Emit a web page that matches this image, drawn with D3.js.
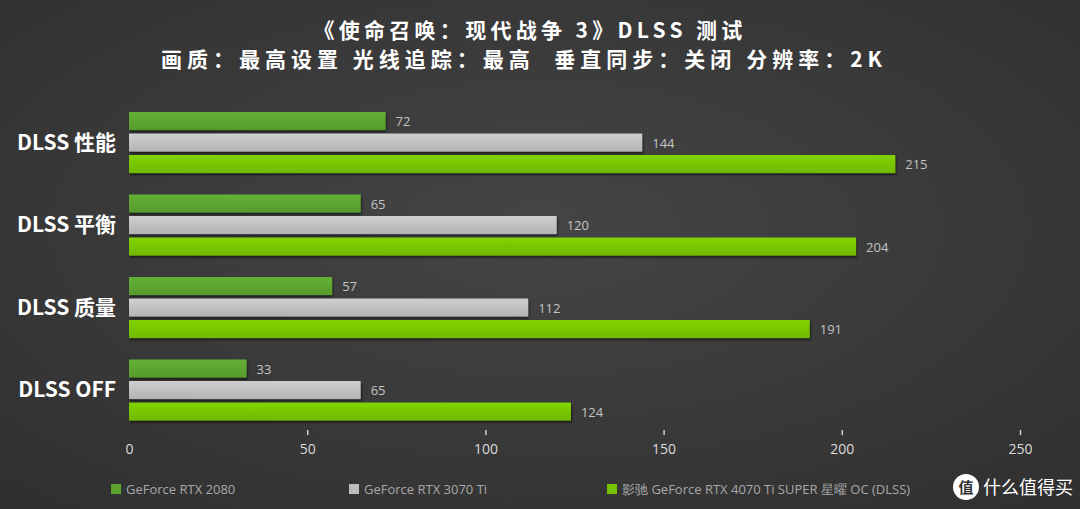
<!DOCTYPE html>
<html>
<head>
<meta charset="utf-8">
<script src="https://cdn.jsdelivr.net/npm/d3@7"></script>
<style>
  html, body { margin: 0; padding: 0; background: #3a3a3a; }
  svg { display: block; }
</style>
</head>
<body>
<svg id="chart" width="1080" height="509"></svg>
<script>
const categories = ["DLSS 性能", "DLSS 平衡", "DLSS 质量", "DLSS OFF"];
const seriesNames = ["GeForce RTX 2080", "GeForce RTX 3070 Ti", "影驰 GeForce RTX 4070 Ti SUPER 星曜 OC (DLSS)"];
const rtx2080 = [72, 65, 57, 33];
const rtx3070ti = [144, 120, 112, 65];
const rtx4070tis = [215, 204, 191, 124];
const xTicks = [0, 50, 100, 150, 200, 250];
const colors = ["#5ba22f", "#bdbdbd", "#76c200"];

const svg = d3.select("#chart");
const W = 1080, H = 509;

// background
const defs = svg.append("defs");
const bg = defs.append("radialGradient").attr("id", "bg").attr("cx", "50%").attr("cy", "45%").attr("r", "75%");
bg.append("stop").attr("offset", "0%").attr("stop-color", "#454545");
bg.append("stop").attr("offset", "100%").attr("stop-color", "#2f2f2f");
const shadow = defs.append("filter").attr("id", "shadow").attr("x", "-5%").attr("y", "-30%").attr("width", "110%").attr("height", "170%");
shadow.append("feDropShadow").attr("dx", 1).attr("dy", 2).attr("stdDeviation", 1.2).attr("flood-color", "#000").attr("flood-opacity", 0.55);
colors.forEach((c, i) => {
    const g = defs.append("linearGradient").attr("id", "bar" + i).attr("x1", 0).attr("y1", 0).attr("x2", 0).attr("y2", 1);
    g.append("stop").attr("offset", "0%").attr("stop-color", d3.color(c).brighter(0.25));
    g.append("stop").attr("offset", "100%").attr("stop-color", d3.color(c).darker(0.15));
});
svg.append("rect").attr("width", W).attr("height", H).attr("fill", "url(#bg)");

// titles
svg.append("text").attr("x", 530).attr("y", 38).attr("text-anchor", "middle")
    .attr("font-family", "Noto Sans CJK SC").attr("font-weight", "bold").attr("font-size", 21)
    .attr("letter-spacing", 4.3).attr("fill", "#ffffff")
    .text("《使命召唤：现代战争 3》DLSS 测试");
svg.append("text").attr("x", 524).attr("y", 67).attr("text-anchor", "middle")
    .attr("font-family", "Noto Sans CJK SC").attr("font-weight", "bold").attr("font-size", 21)
    .attr("letter-spacing", 5).attr("fill", "#ffffff")
    .attr("xml:space", "preserve")
    .text("画质：最高设置 光线追踪：最高  垂直同步：关闭 分辨率：2K");

const x = d3.scaleLinear().domain([0, 250]).range([129, 1020]);
const y0 = d3.scaleBand().domain(categories).range([101.3, 431.3]).paddingInner(0.26).paddingOuter(0.13);
const y1 = d3.scaleBand().domain([0, 1, 2]).range([0, y0.bandwidth()]).paddingInner(0.16);

const series = [rtx2080, rtx3070ti, rtx4070tis];

const groups = svg.append("g").selectAll("g").data(categories).join("g")
    .attr("transform", d => `translate(0,${y0(d)})`);

groups.each(function(cat, ci) {
    const g = d3.select(this);
    series.forEach((s, si) => {
        g.append("rect")
            .attr("x", x(0)).attr("y", y1(si))
            .attr("width", x(s[ci]) - x(0)).attr("height", y1.bandwidth())
            .attr("fill", "url(#bar" + si + ")")
            .attr("filter", "url(#shadow)");
        g.append("text")
            .attr("x", x(s[ci]) + 10).attr("y", y1(si) + y1.bandwidth() / 2 + 5)
            .attr("font-family", "Open Sans").attr("font-size", 13).attr("fill", "#c4c4c4")
            .text(s[ci]);
    });
    g.append("text")
        .attr("x", 116).attr("y", y1(1) + y1.bandwidth() / 2 + 7)
        .attr("text-anchor", "end")
        .attr("font-family", "Noto Sans CJK SC").attr("font-weight", "bold").attr("font-size", 21).attr("fill", "#ffffff")
        .text(cat);
});

// x axis
const axis = svg.append("g").attr("transform", "translate(0,430)")
    .call(d3.axisBottom(x).tickValues(xTicks).tickSize(5).tickPadding(9));
axis.select(".domain").remove();
axis.selectAll(".tick line").attr("stroke", "#d0d0d0").attr("stroke-width", 1.5);
axis.selectAll(".tick").filter(d => d === 0).select("line").remove();
axis.selectAll(".tick text").attr("fill", "#dcdcdc").attr("font-size", 14).attr("font-family", "Open Sans");

// legend
const legendX = [111, 349, 607];
const legend = svg.append("g").selectAll("g").data(seriesNames).join("g")
    .attr("transform", (d, i) => `translate(${legendX[i]},484)`);
legend.append("rect").attr("width", 10).attr("height", 10).attr("fill", (d, i) => colors[i]);
legend.append("text").attr("x", 15).attr("y", 10)
    .attr("font-family", "Open Sans").attr("font-size", 13).attr("fill", "#a8a8a8")
    .text(d => d);

// watermark
const wm = svg.append("g").attr("transform", "translate(966,487)");
wm.append("circle").attr("r", 13).attr("fill", "#ffffff");
wm.append("text").attr("y", 6).attr("text-anchor", "middle").attr("font-family", "Noto Sans CJK SC")
    .attr("font-weight", "bold").attr("font-size", 15).attr("fill", "#333").text("值");
wm.append("text").attr("x", 17).attr("y", 7).attr("font-family", "Noto Sans CJK SC")
    .attr("font-size", 18).attr("fill", "#ffffff").text("什么值得买");
</script>
</body>
</html>
